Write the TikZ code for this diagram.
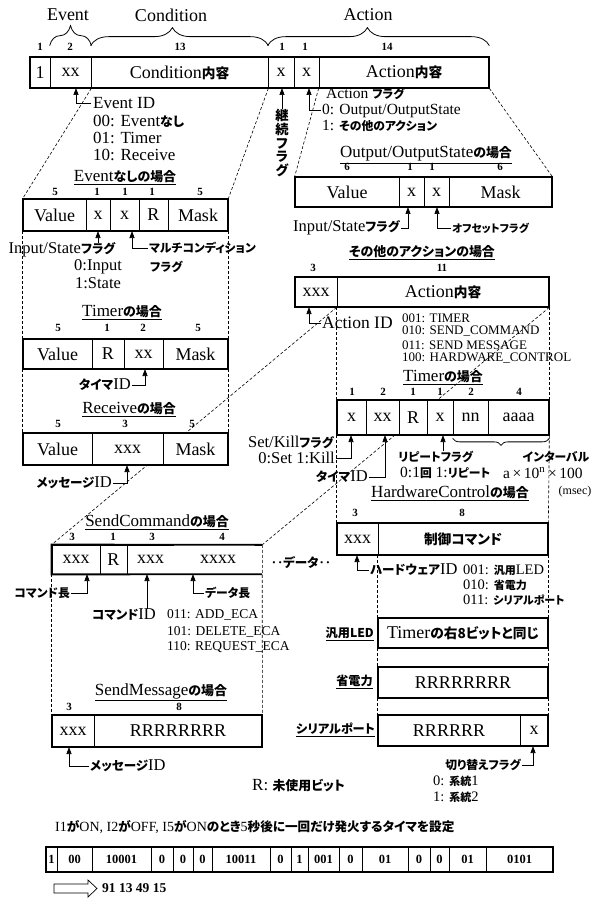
\documentclass[tikz,border=0pt]{standalone}
\usepackage{fontspec}
\setmainfont{Liberation Serif}
\newfontfamily\jpff[Scale=0.76,RawFeature={+palt}]{Noto Sans CJK JP}
\newfontfamily\jpgg[Scale=0.9,RawFeature={+palt}]{Noto Sans CJK JP}
\newcommand\jpf{\jpff\bfseries}
\newcommand\jpg{\jpgg\bfseries}
\usetikzlibrary{arrows.meta,decorations.pathreplacing}
\pgfdeclarelayer{bgzero}
\pgfdeclarelayer{bgone}
\pgfsetlayers{bgzero,bgone,main}
\newcommand\cellnode[7][cell]{\node[#1,minimum width={(#4-#3)*1pt},minimum height={(#6-#5)*1pt}] (#2) at ({(#3+#4)/2},{(#5+#6)/2}) {#7};}
\newcommand\fsz[1]{\fontsize{#1}{#1}\selectfont}
\begin{document}
\begin{tikzpicture}[x=1pt,y=-1pt,
 cell/.style={draw,line width=0.7pt,fill=white,inner sep=0pt,font=\fsz{18}},
 celln/.style={fill=white,inner sep=0pt,font=\fsz{18}},
 bcell/.style={draw,line width=0.7pt,fill=white,inner sep=0pt,font=\bfseries\fsz{12.5}},
 outer/.style={line width=1.9pt},
 dsh/.style={line width=0.6pt,dash pattern=on 3pt off 2pt},
 arr/.style={line width=0.7pt,-{Triangle[length=7pt,width=5pt]}},
 lbl/.style={inner sep=0pt,font=\fsz{16.5}},
 ttl/.style={inner sep=0pt,font=\fsz{17}},
 hdr/.style={inner sep=0pt,font=\fsz{18}},
 num/.style={inner sep=0pt,font=\bfseries\fsz{11}},
 sml/.style={inner sep=0pt,font=\fsz{13.5}},
 brc/.style={line width=0.8pt,decorate},
]
\useasboundingbox (0,0) rectangle (604,901);
\begin{pgfonlayer}{bgzero}\fill[white] (0,0) rectangle (604,901);\end{pgfonlayer}

% ---------- header ----------
\node[hdr] (hEv) at (68,15) {Event};
\node[hdr] (hCo) at (171,15) {Condition};
\node[hdr] (hAc) at (368,15) {Action};

\cellnode{tb1}{30}{50}{57}{88}{1}
\cellnode{tb2}{50}{91}{57}{88}{xx}
\cellnode{tb3}{91}{268}{57}{88}{Condition{\jpf 内容}}
\cellnode{tb4}{268}{294}{57}{88}{x}
\cellnode{tb5}{294}{319}{57}{88}{x}
\cellnode{tb6}{319}{489}{57}{88}{Action{\jpf 内容}}
\draw[outer] (tb1.north west) rectangle (tb6.south east);

\draw[brc,decoration={brace,amplitude=20pt}] ([yshift=11pt]tb2.north west) -- ([yshift=11pt]tb2.north east);
\draw[brc,decoration={brace,amplitude=18pt,aspect=0.46}] ([yshift=11pt]tb3.north west) -- ([yshift=11pt]tb3.north east);
\draw[brc,decoration={brace,amplitude=18pt,aspect=0.45}] ([yshift=11pt]tb4.north west) -- ([yshift=11pt]tb6.north east);

\foreach \x/\t [count=\i] in {40/1,70/2,180/13,282/1,305/1,387/14}
  \node[num] (ntb\i) at (\x,47) {\t};

% ---------- Event ID ----------
\node[lbl,anchor=west,font=\fsz{17}] (evid) at (93,103) {Event ID};
\node[lbl,anchor=west,font=\fsz{17}] (evl0) at (93,121) {00: Event{\jpf なし}};
\node[lbl,anchor=west,font=\fsz{17}] (evl1) at (93,138) {01: Timer};
\node[lbl,anchor=west,font=\fsz{17}] (evl2) at (93,155) {10: Receive};
\coordinate (evidA) at (76,88);
\draw[arr] ([xshift=-2pt]evid.west) -| (evidA);

% 継続フラグ
\node[inner sep=0pt,align=center,font={\fontsize{17.5}{13.8}\selectfont\jpf}] (kz) at (282,143) {継\\続\\フ\\ラ\\グ};
\coordinate (kzA) at (282,88);
\draw[arr] (kz.north) -- (kzA);

% Action flag
\node[lbl,anchor=west,font=\fsz{15.5}] (afl) at (326,94) {Action {\jpf フラグ}};
\node[lbl,anchor=west,font=\fsz{15.5}] (af0) at (322,110.5) {0: Output/OutputState};
\node[lbl,anchor=west,font=\fsz{15.5}] (af1) at (322,126) {1: {\jpf その他のアクション}};
\coordinate (afA) at (309,88);
\draw[arr] ([xshift=-1pt]af0.west) -| (afA);

% ---------- Event-less box ----------
\node[ttl] (tEv) at (125,178) {\underline{Event{\jpf なしの場合}}};
\foreach \x/\t [count=\i] in {55/5,97/1,125/1,152/1,200/5}
  \node[num] (nev\i) at (\x,192) {\t};
\cellnode{ev1}{23}{86}{199}{231}{Value}
\cellnode{ev2}{86}{110}{199}{231}{x}
\cellnode{ev3}{110}{139}{199}{231}{x}
\cellnode{ev4}{139}{168}{199}{231}{R}
\cellnode{ev5}{168}{228}{199}{231}{Mask}
\draw[outer] (ev1.north west) rectangle (ev5.south east);

\node[lbl] (isf) at (62,250) {Input/State{\jpf フラグ}};
\coordinate (isA) at (98,231);
\draw[arr] (isA |- isf.north) -- (isA);
\node[lbl] (is0) at (98,267) {0:Input};
\node[lbl] (is1) at (98,283) {1:State};
\node[lbl,anchor=west,font=\fsz{15.5}] (mc) at (149,248) {\jpf マルチコンディション};
\node[lbl,anchor=west,font=\fsz{15.5}] (mcf) at (150,267) {\jpf フラグ};
\coordinate (mcA) at (132,231);
\draw[arr] ([xshift=-1pt]mc.west) -| (mcA);

% ---------- Timer (condition) ----------
\node[ttl] (tTc) at (122,313) {\underline{Timer{\jpf の場合}}};
\foreach \x/\t [count=\i] in {58/5,107/1,143/2,198/5}
  \node[num] (ntc\i) at (\x,328) {\t};
\cellnode{tc1}{23}{92}{339}{369}{Value}
\cellnode{tc2}{92}{124}{339}{369}{R}
\cellnode{tc3}{124}{163}{339}{369}{xx}
\cellnode{tc4}{163}{228}{339}{369}{Mask}
\draw[outer] (tc1.north west) rectangle (tc4.south east);
\node[lbl,anchor=east] (tid) at (131,385) {{\jpf タイマ}ID};
\coordinate (tidA) at (145,369);
\draw[arr] ([xshift=1pt]tid.east) -| (tidA);

% ---------- Receive ----------
\node[ttl] (tRc) at (129,410) {\underline{Receive{\jpf の場合}}};
\foreach \x/\t [count=\i] in {58/5,125/3,192/5}
  \node[num] (nrc\i) at (\x,424) {\t};
\cellnode{rc1}{23}{92}{433}{465}{Value}
\cellnode{rc2}{92}{163}{433}{465}{xxx}
\cellnode{rc3}{163}{228}{433}{465}{Mask}
\draw[outer] (rc1.north west) rectangle (rc3.south east);
\node[lbl,anchor=east] (mid) at (112,483) {{\jpf メッセージ}ID};
\coordinate (midA) at (127,465);
\draw[arr] ([xshift=1pt]mid.east) -| (midA);

% ---------- Output/OutputState ----------
\node[ttl] (tOut) at (426,155) {\underline{Output/OutputState{\jpf の場合}}};
\foreach \x/\t [count=\i] in {347/6,410/1,432/1,500/6}
  \node[num] (nout\i) at (\x,167) {\t};
\cellnode{out1}{295}{399}{177}{207}{Value}
\cellnode{out2}{399}{424}{177}{207}{x}
\cellnode{out3}{424}{449}{177}{207}{x}
\cellnode{out4}{449}{552}{177}{207}{Mask}
\draw[outer] (out1.north west) rectangle (out4.south east);
\node[lbl,anchor=east] (isf2) at (400,228) {Input/State{\jpf フラグ}};
\coordinate (is2A) at (408,207);
\draw[arr] ([xshift=1pt]isf2.east) -| (is2A);
\node[lbl,anchor=west,font=\fsz{14}] (ofs) at (452,228) {\jpf オフセットフラグ};
\coordinate (ofA) at (437,207);
\draw[arr] ([xshift=-1pt]ofs.west) -| (ofA);

% ---------- Other action ----------
\node[ttl] (tOa) at (422,253) {\underline{\jpf その他のアクションの場合}};
\node[num] (noa1) at (313,268) {3};
\node[num] (noa2) at (442,268) {11};
\cellnode{oa1}{295}{337}{277}{307}{xxx}
\cellnode{oa2}{337}{549}{277}{307}{Action{\jpf 内容}}
\draw[outer] (oa1.north west) rectangle (oa2.south east);
\node[lbl,anchor=west,font=\fsz{17.5}] (aid) at (322,323) {Action ID};
\coordinate (aidA) at (309,307);
\draw[arr] ([xshift=-1pt]aid.west) -| (aidA);
\node[sml,anchor=west,font=\fsz{13}] (al1) at (402,318) {001: TIMER};
\node[sml,anchor=west,font=\fsz{13}] (al2) at (402,331) {010: SEND\_COMMAND};
\node[sml,anchor=west,font=\fsz{13}] (al3) at (402,345) {011: SEND MESSAGE};
\node[sml,anchor=west,font=\fsz{13}] (al4) at (402,358) {100: HARDWARE\_CONTROL};

% ---------- Timer (action) ----------
\node[ttl] (tTa) at (443,378) {\underline{Timer{\jpf の場合}}};
\foreach \x/\t [count=\i] in {352/1,383/2,413/1,440/1,471/2,519/4}
  \node[num] (nta\i) at (\x,392) {\t};
\cellnode{ta1}{337}{366}{400}{435}{x}
\cellnode{ta2}{366}{399}{400}{435}{xx}
\cellnode{ta3}{399}{427}{400}{435}{R}
\cellnode{ta4}{427}{453}{400}{435}{x}
\cellnode{ta5}{453}{488}{400}{435}{nn}
\cellnode{ta6}{488}{549}{400}{435}{aaaa}
\draw[outer] (ta1.north west) rectangle (ta6.south east);
\draw[brc,decoration={brace,amplitude=7pt}] ([yshift=-3pt]ta6.south east) -- ([yshift=-3pt]ta5.south west);

\node[lbl,anchor=east] (skf) at (334,442) {Set/Kill{\jpf フラグ}};
\node[lbl,anchor=east] (sk0) at (335,458) {0:Set 1:Kill};
\coordinate (skA) at (351,435);
\draw[arr] ([xshift=1pt]sk0.east) -| (skA);
\node[lbl,anchor=east] (tid2) at (368,477) {{\jpf タイマ}ID};
\coordinate (tid2A) at (385,435);
\draw[arr] ([xshift=1pt]tid2.east) -| (tid2A);
\node[lbl,anchor=west,font=\fsz{15.5}] (rpf) at (398,457) {\jpf リピートフラグ};
\coordinate (rpA) at (443,435);
\draw[arr] (rpA |- rpf.north) -- (rpA);
\node[lbl,anchor=west,font=\fsz{15.5}] (rp0) at (400,473) {0:1{\jpf 回} 1:{\jpf リピート}};
\node[lbl,font=\fsz{15.5}] (itv) at (556,457) {\jpf インターバル};
\node[lbl,anchor=west,font=\fsz{15.5}] (itv2) at (503,473) {a\,×\,10\textsuperscript{n}\,×\,100};
\node[lbl,font=\fsz{12}] (msec) at (575,492) {(msec)};

% ---------- Hardware control ----------
\node[ttl] (tHw) at (450,493) {\underline{HardwareControl{\jpf の場合}}};
\node[num] (nhw1) at (355,513) {3};
\node[num] (nhw2) at (462,513) {8};
\cellnode{hw1}{337}{378}{523}{555}{xxx}
\cellnode{hw2}{378}{548}{523}{555}{\jpf 制御コマンド}
\draw[outer] (hw1.north west) rectangle (hw2.south east);
\node[lbl,anchor=west] (hwid) at (370,570) {{\jpf ハードウェア}ID};
\coordinate (hwA) at (357,555);
\draw[arr] ([xshift=-1pt]hwid.west) -| (hwA);
\node[lbl,anchor=west,font=\fsz{14.5}] (hl1) at (463,570) {001: {\jpf 汎用}LED};
\node[lbl,anchor=west,font=\fsz{14.5}] (hl2) at (463,585) {010: {\jpf 省電力}};
\node[lbl,anchor=west,font=\fsz{14.5}] (hl3) at (463,600) {011: {\jpf シリアルポート}};

\cellnode{led}{378}{548}{618}{648}{Timer{\jpf の右8ビットと同じ}}
\draw[outer] (led.north west) rectangle (led.south east);
\node[lbl,anchor=east,font=\fsz{16}] (ledl) at (374,634) {\jpf\underline{汎用LED}};

\cellnode{pw}{378}{548}{667}{698}{RRRRRRRR}
\draw[outer] (pw.north west) rectangle (pw.south east);
\node[lbl,anchor=east,font=\fsz{16}] (pwl) at (373,682) {\jpf\underline{省電力}};

\cellnode{sp1}{378}{520}{715}{746}{RRRRRR}
\cellnode{sp2}{520}{548}{715}{746}{x}
\draw[outer] (sp1.north west) rectangle (sp2.south east);
\node[lbl,anchor=east,font=\fsz{16}] (spl) at (375,730) {\jpf\underline{シリアルポート}};
\node[lbl,anchor=east,font=\fsz{15.5}] (kf) at (521,765) {\jpf 切り替えフラグ};
\coordinate (kfA) at (533,746);
\draw[arr] ([xshift=1pt]kf.east) -| (kfA);
\node[lbl,anchor=west,font=\fsz{14.5}] (kf0) at (433,781) {0: {\jpf 系統}1};
\node[lbl,anchor=west,font=\fsz{14.5}] (kf1) at (433,797) {1: {\jpf 系統}2};

% ---------- SendCommand ----------
\node[ttl] (tSc) at (157,522) {\underline{SendCommand{\jpf の場合}}};
\foreach \x/\t [count=\i] in {72/3,113/1,152/3,222/4}
  \node[num] (nsc\i) at (\x,537) {\t};
\cellnode{sc1}{52}{100}{545}{574}{xxx}
\cellnode{sc2}{100}{127}{545}{574}{R}
\cellnode{sc3}{127}{174}{545}{574}{xxx}
\cellnode[celln]{sc4}{174}{262}{545}{574}{xxxx}
\draw[outer] (sc4.north east) -- (sc1.north west) -- (sc1.south west) -- (sc4.south east);
\node[lbl] (dat) at (301,563) {{\jpf ‥データ‥}};
\node[lbl,anchor=east,font=\fsz{15.5}] (cml) at (70,593) {\jpf コマンド長};
\coordinate (cmlA) at (87,574);
\draw[arr] ([xshift=1pt]cml.east) -| (cmlA);
\node[lbl] (cid) at (124,615) {{\jpf コマンド}ID};
\coordinate (cidA) at (147,574);
\draw[arr] (cidA |- cid.north) -- (cidA);
\node[lbl,anchor=west,font=\fsz{15.5}] (dl) at (205,593) {\jpf データ長};
\coordinate (dlA) at (193,574);
\draw[arr] ([xshift=-1pt]dl.west) -| (dlA);
\node[sml,anchor=west] (cl1) at (167,615) {011: ADD\_ECA};
\node[sml,anchor=west] (cl2) at (167,632) {101: DELETE\_ECA};
\node[sml,anchor=west] (cl3) at (167,647) {110: REQUEST\_ECA};

% ---------- SendMessage ----------
\node[ttl] (tSm) at (161,692) {\underline{SendMessage{\jpf の場合}}};
\node[num] (nsm1) at (69,707) {3};
\node[num] (nsm2) at (179,707) {8};
\cellnode{sm1}{52}{94}{715}{747}{xxx}
\cellnode{sm2}{94}{262}{715}{747}{RRRRRRRR}
\draw[outer] (sm1.north west) rectangle (sm2.south east);
\node[lbl,anchor=west] (mid2) at (90,766) {{\jpf メッセージ}ID};
\coordinate (mid2A) at (69,747);
\draw[arr] ([xshift=-1pt]mid2.west) -| (mid2A);

\node[lbl,anchor=west,font=\fsz{17}] (rnote) at (252,786) {R: {\jpf 未使用ビット}};

% ---------- Example ----------
\node[lbl,anchor=west,font=\fsz{14}] (sent) at (55,827) {I1{\jpg が}ON, I2{\jpg が}OFF, I5{\jpg が}ON{\jpg のとき}5{\jpg 秒後に一回だけ発火するタイマを設定}};
\foreach \l/\r/\t [count=\i] in {46/57/1,57/92/00,92/151/10001,151/173/0,173/193/0,193/212/0,212/270/10011,270/291/0,291/308/1,308/339/001,339/362/0,362/408/01,408/430/0,430/449/0,449/486/01,486/553/0101}
  \cellnode[bcell]{bb\i}{\l}{\r}{847}{872}{\t};
\draw[outer] (bb1.north west) rectangle (bb16.south east);
\node[anchor=west,inner sep=0pt,font=\bfseries\fsz{13.5}] (res) at (102,888) {91 13 49 15};
\draw[line width=0.7pt] (54,884) -- (88,884) -- (88,880) -- (97,888.5) -- (88,897) -- (88,893) -- (54,893) -- cycle;

% ---------- dashed expansion lines ----------
\begin{pgfonlayer}{bgone}
\draw[dsh] (tb2.south east) -- (ev1.north west);
\draw[dsh] (tb3.south east) -- (ev5.north east);
\draw[dsh] (ev1.south west) -- (tc1.north west);
\draw[dsh] (ev5.south east) -- (tc4.north east);
\draw[dsh] (tc1.south west) -- (rc1.north west);
\draw[dsh] (tc4.south east) -- (rc3.north east);
\draw[dsh] (tb6.south west) -- (out1.north west);
\draw[dsh] (tb6.south east) -- (out4.north east);
\draw[dsh] (oa2.south west) -- (ta1.north west);
\draw[dsh] (oa2.south east) -- (ta6.north east);
\draw[dsh] (ta1.south west) -- (hw1.north west);
\draw[dsh] (ta6.south east) -- (hw2.north east);
\draw[dsh] (hw2.south west) -- (led.north west);
\draw[dsh] (hw2.south east) -- (led.north east);
\draw[dsh] (led.south west) -- (pw.north west);
\draw[dsh] (led.south east) -- (pw.north east);
\draw[dsh] (pw.south west) -- (sp1.north west);
\draw[dsh] (pw.south east) -- (sp2.north east);
\draw[dsh] (oa2.south west) -- (sc1.north west);
\draw[dsh] (oa2.south east) -- (sc4.north east);
\draw[dsh] (sc1.south west) -- (sm1.north west);
\draw[dsh] (sc4.north east) -- (sm2.north east);
\end{pgfonlayer}
\end{tikzpicture}
\end{document}
